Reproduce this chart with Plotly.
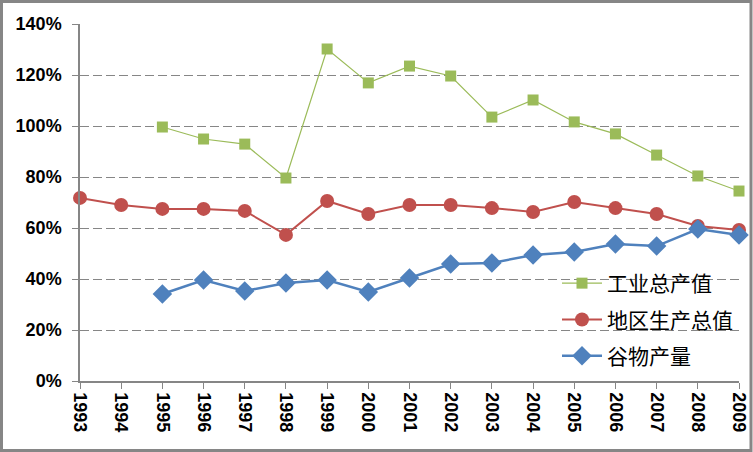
import plotly.graph_objects as go

years = list(range(1993, 2010))
years_ind = list(range(1995, 2010))
industry = [99.6, 94.9, 92.9, 79.6, 130.2, 116.9, 123.5, 119.6, 103.5, 110.2, 101.6, 96.9, 88.6, 80.4, 74.5]
gdp = [71.8, 69.0, 67.5, 67.5, 66.7, 57.3, 70.6, 65.5, 69.0, 69.0, 67.8, 66.3, 70.2, 67.8, 65.5, 60.8, 59.2]
years_grain = list(range(1995, 2010))
grain = [34.1, 39.6, 35.3, 38.4, 39.6, 34.9, 40.4, 45.9, 46.3, 49.4, 50.6, 53.7, 52.9, 59.6, 57.3]

names = ["工业总产值", "地区生产总值", "谷物产量"]
y_ticks = [0, 20, 40, 60, 80, 100, 120, 140]
y_tick_text = [f"{v}%" for v in y_ticks]

fig = go.Figure()
fig.add_trace(go.Scatter(
    x=years_ind, y=industry, name=names[0], mode="lines+markers",
    line=dict(color="#9BBB59", width=1.2),
    marker=dict(symbol="square", size=11, color="#9BBB59"),
    cliponaxis=False, legendgroup="a"))
fig.add_trace(go.Scatter(
    x=years, y=gdp, name=names[1], mode="lines+markers",
    line=dict(color="#C0504D", width=2),
    marker=dict(symbol="circle", size=14, color="#C0504D"),
    cliponaxis=False, legendgroup="b"))
fig.add_trace(go.Scatter(
    x=years_grain, y=grain, name=names[2], mode="lines+markers",
    line=dict(color="#4F81BD", width=2.5),
    marker=dict(symbol="diamond", size=15, color="#4F81BD"),
    cliponaxis=False, legendgroup="c"))

L, R, T, B = 80, 14, 24, 71
W, H = 753, 452
pw, ph = W - L - R, H - T - B

tickfont = dict(family="Liberation Sans", size=18, color="black", weight="bold")

fig.update_layout(
    width=W, height=H, autosize=False,
    margin=dict(l=L, r=R, t=T, b=B, autoexpand=False),
    paper_bgcolor="white", plot_bgcolor="white",
    showlegend=True,
    legend=dict(
        x=(557 - L) / pw, y=(381 - 263) / ph, xanchor="left", yanchor="top",
        font=dict(family="Noto Sans CJK SC", size=21, color="black"),
        bgcolor="rgba(0,0,0,0)", tracegroupgap=6, itemwidth=40,
    ),
    xaxis=dict(
        range=[1993, 2009], tickmode="array", tickvals=years,
        ticktext=[str(y) for y in years], tickangle=90,
        tickfont=tickfont, automargin=False,
        showgrid=False, showline=True, linecolor="#868686", linewidth=1.5,
        ticks="outside", ticklen=6, tickcolor="#868686", zeroline=False,
    ),
    yaxis=dict(
        range=[0, 140], tickmode="array", tickvals=y_ticks, ticktext=y_tick_text,
        tickfont=tickfont, automargin=False, ticklabelstandoff=7,
        showgrid=True, gridcolor="#868686", griddash="9px,4px", gridwidth=1,
        showline=True, linecolor="#868686", linewidth=1.5,
        ticks="outside", ticklen=6, tickcolor="#868686", zeroline=False,
    ),
)

# outer frame
fig.add_shape(type="rect", xref="paper", yref="paper",
              x0=(1.5 - L) / pw, x1=(751 - L) / pw,
              y0=(381 - 450.5) / ph, y1=(381 - 1.5) / ph,
              line=dict(color="#868686", width=3), fillcolor="rgba(0,0,0,0)", layer="below")

fig.write_html("out.html",
               config={"responsive": False, "displayModeBar": False},
               post_script="document.body.style.margin='0';document.body.style.overflow='hidden';")
